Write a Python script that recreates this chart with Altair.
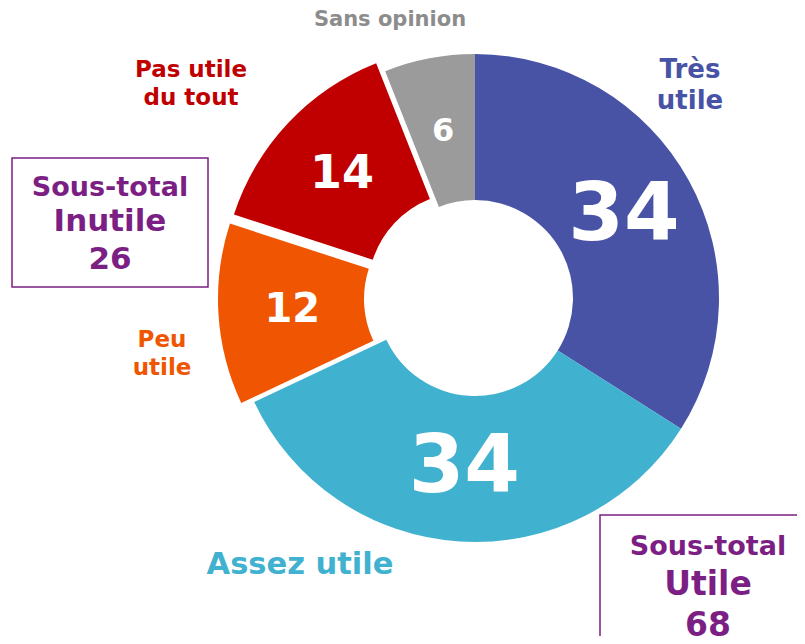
import math
import altair as alt
import pandas as pd

# ---- data ----
categories = ["Très utile", "Assez utile", "Peu utile", "Pas utile du tout", "Sans opinion"]
values = [34, 34, 12, 14, 6]
slice_colors = ["#4953A6", "#40B1CF", "#F05602", "#C00000", "#9B9B9B"]
label_colors = ["#4953A6", "#40B1CF", "#F05602", "#C00000", "#8C8C8C"]
label_lines = ["Très\nutile", "Assez utile", "Peu\nutile", "Pas utile\ndu tout", "Sans opinion"]
subtotal_names = ["Inutile", "Utile"]
subtotal_values = [26, 68]
subtotal_prefix = "Sous-total"

PURPLE = "#7B1F84"
FONT = "DejaVu Sans"

df = pd.DataFrame({"cat": categories, "value": values})
df["end"] = df["value"].cumsum()
df["start"] = df["end"] - df["value"]
df["mid"] = (df["start"] + df["end"]) / 2

theta_scale = alt.Scale(domain=[0, 100], range=[0, 2 * math.pi])
color_scale = alt.Scale(domain=categories, range=slice_colors)
size_scale = alt.Scale(type="ordinal", domain=categories, range=[80, 80, 40, 46, 32])

CX, CY = 467, 290


def slices(cats, dx=0, dy=0):
    base = alt.Chart(df).transform_filter(
        alt.FieldOneOfPredicate(field="cat", oneOf=cats)
    )
    arc = base.mark_arc(innerRadius=98, outerRadius=244).encode(
        theta=alt.Theta("start:Q", scale=theta_scale, stack=None),
        theta2="end:Q",
        color=alt.Color("cat:N", scale=color_scale, legend=None),
        x=alt.value(CX + dx),
        y=alt.value(CY + dy),
    )
    txt = base.mark_text(
        radius=170, font=FONT, fontWeight="bold", color="white",
        align="center", baseline="middle",
    ).encode(
        theta=alt.Theta("mid:Q", scale=theta_scale, stack=None),
        text="value:Q",
        size=alt.Size("cat:N", scale=size_scale, legend=None),
        x=alt.value(CX + dx),
        y=alt.value(CY + dy),
    )
    return [arc, txt]


def label(text, x, y, size, color, line_height=None):
    kw = dict(font=FONT, fontWeight="bold", fontSize=size, color=color,
              align="center", baseline="middle", lineBreak="\n", text=text)
    if line_height:
        kw["lineHeight"] = line_height
    return alt.Chart(df).transform_filter("datum.cat == 'Très utile'").mark_text(**kw).encode(
        x=alt.value(x), y=alt.value(y)
    )


def box(x1, y1, x2, y2):
    return alt.Chart(df).transform_filter("datum.cat == 'Très utile'").mark_rect(
        fill="white", fillOpacity=0, stroke=PURPLE, strokeWidth=1.5
    ).encode(x=alt.value(x1), x2=alt.value(x2), y=alt.value(y1), y2=alt.value(y2))


layers = []
layers += slices(["Très utile", "Assez utile", "Sans opinion"])
layers += slices(["Peu utile"], -13, 1)
layers += slices(["Pas utile du tout"], -9, -8)

# category labels (y is the first line's centre)
layers.append(label(label_lines[0], 682, 62, 26, label_colors[0], 31))
layers.append(label(label_lines[1], 292, 557, 30.5, label_colors[1]))
layers.append(label(label_lines[2], 154, 332, 23, label_colors[2], 28))
layers.append(label(label_lines[3], 183, 62, 23, label_colors[3], 28))
layers.append(label(label_lines[4], 382, 12, 21, label_colors[4]))

# subtotal boxes
layers.append(box(4, 150, 200, 279))
layers.append(label(subtotal_prefix, 102, 180, 27, PURPLE))
layers.append(label(subtotal_names[0], 102, 214, 31, PURPLE))
layers.append(label(str(subtotal_values[0]), 102, 252, 31, PURPLE))

layers.append(box(592, 507, 800, 640))
layers.append(label(subtotal_prefix, 700, 539, 27, PURPLE))
layers.append(label(subtotal_names[1], 700, 577, 33, PURPLE))
layers.append(label(str(subtotal_values[1]), 700, 618, 33, PURPLE))

chart = alt.layer(*layers).properties(
    width=789, height=628, padding=0, autosize="none", background="white"
).configure_view(stroke=None)

chart.save("out.html", embed_options={"renderer": "svg", "actions": False})
